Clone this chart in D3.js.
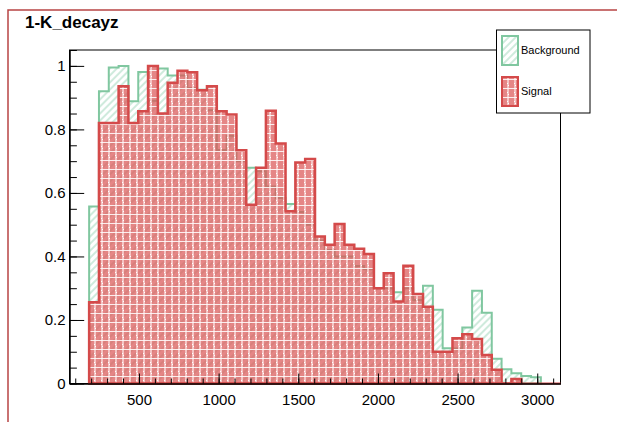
<!DOCTYPE html>
<html>
<head>
<meta charset="utf-8">
<script src="https://cdn.jsdelivr.net/npm/d3@7"></script>
<style>
  body { margin: 0; background: #fff; }
  text { font-family: "Liberation Sans", Arial, Helvetica, sans-serif; }
</style>
</head>
<body>
<div id="chart"></div>
<script>
// histogram binning (ROOT style, 50 bins over the frame range)
const xMin = 64, xMax = 3146, nBins = 50;

// normalised bin contents
const background = [0, 0, 0.557, 0.92, 0.995, 1.0, 0.889, 0.981, 0.89, 0.992,
  0.97, 0.97, 0.93, 0.925, 0.86, 0.735, 0.78, 0.70, 0.679, 0.668,
  0.62, 0.584, 0.565, 0.54, 0.50, 0.45, 0.42, 0.40, 0.40, 0.37,
  0.36, 0.30, 0.30, 0.287, 0.30, 0.263, 0.308, 0.232, 0.111, 0.11,
  0.176, 0.292, 0.223, 0.078, 0.045, 0.032, 0.024, 0.02, 0, 0];
const signal = [0, 0, 0.256, 0.82, 0.82, 0.936, 0.82, 0.857, 1.0, 0.85,
  0.947, 0.985, 0.98, 0.923, 0.936, 0.857, 0.847, 0.734, 0.563, 0.679,
  0.859, 0.756, 0.542, 0.696, 0.707, 0.463, 0.437, 0.502, 0.437, 0.424,
  0.408, 0.30, 0.347, 0.258, 0.371, 0.282, 0.242, 0.10, 0.10, 0.1425,
  0.155, 0.14, 0.09, 0.043, 0, 0.014, 0, 0, 0, 0];

const xMajor = [500, 1000, 1500, 2000, 2500, 3000];
const xMinor = d3.range(100, 3101, 100);
const yMajor = [0, 0.2, 0.4, 0.6, 0.8, 1];
const yMinor = d3.range(0, 1.051, 0.05);
const legendNames = ["Background", "Signal"];

const W = 617, H = 422;
const frame = { left: 69.5, right: 560.5, top: 50, bottom: 383.5 };

const svg = d3.select("#chart").append("svg")
  .attr("width", W).attr("height", H);

// patterns
const defs = svg.append("defs");
const hatch = defs.append("pattern")
  .attr("id", "hatch")
  .attr("patternUnits", "userSpaceOnUse")
  .attr("width", 5).attr("height", 5)
  .attr("patternTransform", "rotate(45)");
hatch.append("line")
  .attr("x1", 1).attr("y1", 0).attr("x2", 1).attr("y2", 5)
  .attr("stroke", "#9fd6ba").attr("stroke-width", 1);

// red checkered fill, partly see-through like the ROOT pattern
const check = defs.append("pattern")
  .attr("id", "check")
  .attr("patternUnits", "userSpaceOnUse")
  .attr("width", 7).attr("height", 9);
check.append("rect").attr("width", 7).attr("height", 9)
  .attr("fill", "#dc5858").attr("opacity", 0.72);
check.append("rect").attr("x", 3).attr("width", 2).attr("height", 9)
  .attr("fill", "#f8cccc").attr("opacity", 0.9);
check.append("rect").attr("x", 3).attr("y", 2).attr("width", 1).attr("height", 1)
  .attr("fill", "#fff");
check.append("rect").attr("x", 4).attr("y", 4).attr("width", 1).attr("height", 1)
  .attr("fill", "#fff");
check.append("rect").attr("y", 7).attr("width", 7).attr("height", 1)
  .attr("fill", "#ffffff").attr("opacity", 0.85);

// pad border
svg.append("path")
  .attr("d", `M8,${H} L8,10 L${W},10`)
  .attr("fill", "none").attr("stroke", "#b84444").attr("stroke-width", 1.5);

const x = d3.scaleLinear().domain([xMin, xMax]).range([frame.left, frame.right]);
const y = d3.scaleLinear().domain([0, 1.05]).range([frame.bottom, frame.top]);
const bw = (xMax - xMin) / nBins;

function stepPath(vals) {
  let first = vals.findIndex(v => v > 0);
  let last = vals.length - 1 - [...vals].reverse().findIndex(v => v > 0);
  let p = `M${x(xMin + first * bw)},${y(0)}`;
  for (let i = first; i <= last; i++) {
    p += ` L${x(xMin + i * bw)},${y(vals[i])} L${x(xMin + (i + 1) * bw)},${y(vals[i])}`;
  }
  p += ` L${x(xMin + (last + 1) * bw)},${y(0)} Z`;
  return p;
}

// frame
svg.append("rect")
  .attr("x", frame.left).attr("y", frame.top)
  .attr("width", frame.right - frame.left).attr("height", frame.bottom - frame.top)
  .attr("fill", "#fff").attr("stroke", "#000").attr("stroke-width", 1);

svg.append("path").attr("d", stepPath(background))
  .attr("fill", "url(#hatch)").attr("stroke", "#80c7a0").attr("stroke-width", 2);
svg.append("path").attr("d", stepPath(signal))
  .attr("fill", "url(#check)").attr("stroke", "#d44a4a").attr("stroke-width", 2.5);
// red baseline runs on to the frame edge
svg.append("line")
  .attr("x1", x(xMin + 2 * bw)).attr("x2", frame.right)
  .attr("y1", y(0)).attr("y2", y(0))
  .attr("stroke", "#d44a4a").attr("stroke-width", 2);

// axes (ticks inside, ROOT style)
const gx = svg.append("g").attr("transform", `translate(0,${frame.bottom})`);
gx.append("g").call(d3.axisBottom(x).tickValues(xMinor).tickSize(-5).tickSizeOuter(0).tickFormat(""));
gx.append("g").call(d3.axisBottom(x).tickValues(xMajor).tickSize(-10).tickSizeOuter(0).tickPadding(11)
    .tickFormat(d3.format("d")))
  .selectAll("text").style("font-size", "15px").attr("fill", "#000");

const gy = svg.append("g").attr("transform", `translate(${frame.left},0)`);
gy.append("g").call(d3.axisLeft(y).tickValues(yMinor).tickSize(-7.4).tickSizeOuter(0).tickFormat(""));
gy.append("g").call(d3.axisLeft(y).tickValues(yMajor).tickSize(-14.7).tickSizeOuter(0).tickPadding(4)
    .tickFormat(d3.format("~g")))
  .selectAll("text").style("font-size", "15px").attr("fill", "#000");

svg.selectAll(".domain").attr("stroke", "#000");
svg.selectAll(".tick line").attr("stroke", "#000");

// title
svg.append("text")
  .attr("x", 25).attr("y", 28)
  .style("font-size", "17px").style("font-weight", "bold")
  .text("1-K_decayz");

// legend
const lg = svg.append("g");
lg.append("rect")
  .attr("x", 496.5).attr("y", 30).attr("width", 93.5).attr("height", 83)
  .attr("fill", "#fff").attr("stroke", "#000").attr("stroke-width", 1);
const fills = [["url(#hatch)", "#80c7a0"], ["url(#check)", "#d44a4a"]];
legendNames.forEach((name, i) => {
  const top = 36 + i * 41;
  lg.append("rect")
    .attr("x", 502).attr("y", top).attr("width", 16).attr("height", 29)
    .attr("fill", fills[i][0]).attr("stroke", fills[i][1]).attr("stroke-width", 2);
  lg.append("text")
    .attr("x", 521).attr("y", top + 18)
    .style("font-size", "11px")
    .text(name);
});
</script>
</body>
</html>
